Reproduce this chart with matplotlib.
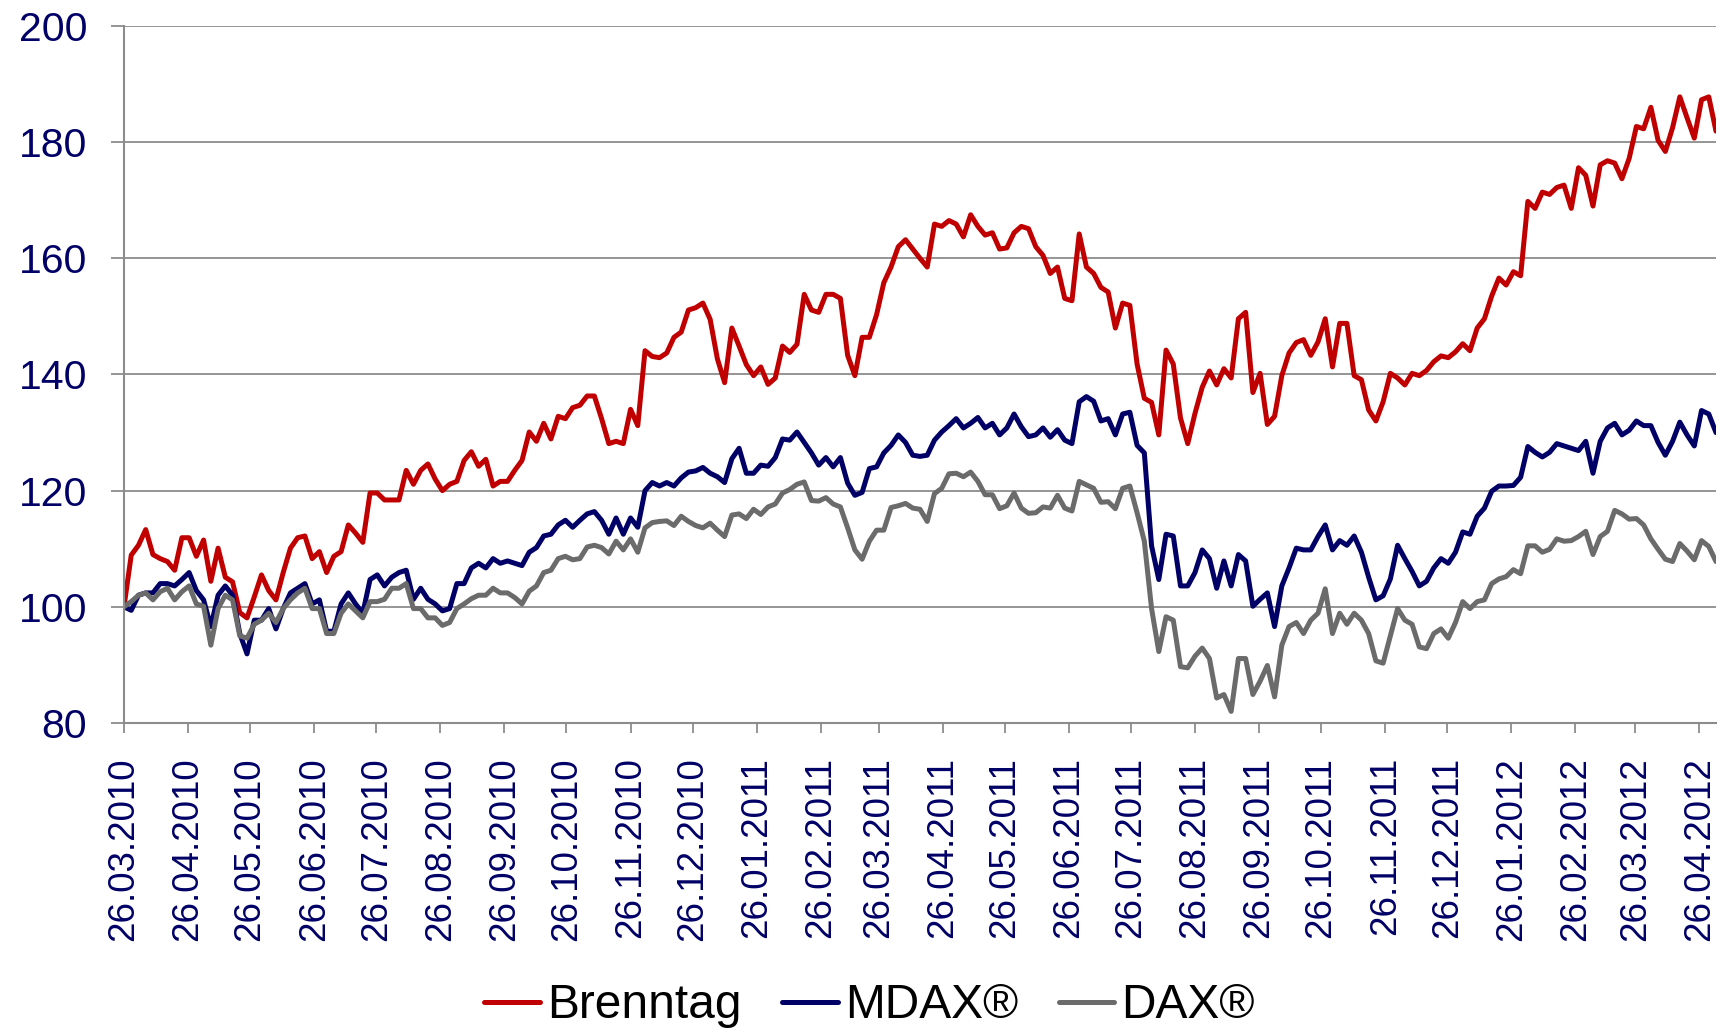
import matplotlib
matplotlib.use("Agg")
import matplotlib.pyplot as plt
import matplotlib.dates as mdates
import pandas as pd

# Observation dates: every 3.5 days from 26.03.2010
dates = pd.date_range("2010-03-26", periods=221, freq="84h")

brenntag = [
    100, 108.9, 110.6, 113.3, 109, 108.3, 107.8, 106.3, 111.9, 111.9,
    108.7, 111.5, 104.4, 110.1, 105.1, 104.3, 99, 98.1, 101.7, 105.5,
    102.8, 101.2, 105.9, 110.1, 111.9, 112.2, 108.3, 109.5, 105.9, 108.7,
    109.5, 114.1, 112.7, 111.1, 119.6, 119.6, 118.4, 118.4, 118.4, 123.5,
    121.1, 123.5, 124.6, 122, 120, 121.1, 121.6, 125.2, 126.7, 124.2,
    125.4, 120.8, 121.6, 121.6, 123.5, 125.2, 130.1, 128.5, 131.6, 128.9,
    132.8, 132.4, 134.3, 134.7, 136.3, 136.3, 132.4, 128.1, 128.5, 128.1,
    134, 131.2, 144.1, 143.1, 142.9, 143.7, 146.4, 147.3, 151.1, 151.5,
    152.3, 149.5, 142.7, 138.6, 148, 144.9, 141.7, 139.8, 141.3, 138.3,
    139.4, 144.9, 143.8, 145.2, 153.8, 151.1, 150.7, 153.8, 153.8, 153.1,
    143.3, 139.8, 146.4, 146.4, 150.3, 155.8, 158.5, 162, 163.2, 161.6,
    160, 158.5, 165.9, 165.5, 166.5, 165.9, 163.7, 167.5, 165.5, 164,
    164.4, 161.6, 161.8, 164.4, 165.5, 165.1, 162, 160.5, 157.4, 158.5,
    153.1, 152.7, 164.2, 158.5, 157.4, 155, 154.2, 148, 152.3, 151.9,
    141.8, 135.9, 135.2, 129.6, 144.2, 141.8, 132.5, 128.1, 133.3, 137.8,
    140.6, 138.2, 141, 139.4, 149.6, 150.7, 136.9, 140.2, 131.4, 132.8,
    139.8, 143.7, 145.5, 146, 143.3, 145.6, 149.6, 141.3, 148.8, 148.8,
    139.8, 139.1, 133.9, 132, 135.3, 140.2, 139.4, 138.2, 140.2, 139.8,
    140.7, 142.2, 143.2, 142.9, 143.9, 145.3, 144.1, 148, 149.6, 153.5,
    156.6, 155.4, 157.7, 157, 169.8, 168.6, 171.4, 171, 172.2, 172.6,
    168.6, 175.6, 174.3, 169, 176.1, 176.8, 176.4, 173.7, 177.2, 182.7,
    182.3, 186, 180.3, 178.4, 182.5, 187.8, 184.2, 180.7, 187.3, 187.8,
    181.9,
]

mdax = [
    100, 99.4, 102, 102.4, 102.4, 104, 104, 103.6, 104.7, 105.9,
    102.8, 101.2, 96.6, 102, 103.6, 102, 95.4, 91.9, 97.7, 97.7,
    99.7, 96.2, 99.7, 102.4, 103.2, 104, 100.5, 101.2, 95.8, 95.8,
    100.5, 102.4, 100.5, 98.9, 104.7, 105.5, 103.6, 105.1, 105.9, 106.3,
    101.3, 103.2, 101.3, 100.5, 99.3, 99.7, 104, 104, 106.7, 107.5,
    106.7, 108.3, 107.5, 107.9, 107.5, 107.1, 109.4, 110.2, 112.2, 112.5,
    114.1, 114.9, 113.7, 114.9, 116, 116.4, 114.9, 112.5, 115.3, 112.5,
    115.3, 113.7, 120, 121.4, 120.8, 121.4, 120.8, 122.2, 123.2, 123.4,
    124, 123, 122.4, 121.4, 125.5, 127.3, 123, 123, 124.4, 124.2,
    125.7, 128.9, 128.7, 130.1, 128.3, 126.5, 124.4, 125.7, 124.1, 125.7,
    121.3, 119.2, 119.7, 123.8, 124.1, 126.5, 127.8, 129.6, 128.3, 126.1,
    125.9, 126.1, 128.7, 130.1, 131.2, 132.4, 130.8, 131.6, 132.6, 130.8,
    131.6, 129.6, 130.8, 133.2, 131, 129.3, 129.6, 130.8, 129.2, 130.5,
    128.7, 128.1, 135.3, 136.2, 135.4, 132, 132.4, 129.6, 133.2, 133.5,
    127.8, 126.5, 110.5, 104.7, 112.5, 112.2, 103.6, 103.6, 105.9, 109.8,
    108.3, 103.2, 107.9, 103.6, 109, 107.9, 100.1, 101.3, 102.4, 96.6,
    103.6, 106.7, 110.1, 109.8, 109.8, 112.1, 114.1, 109.8, 111.4, 110.6,
    112.2, 109.4, 105.1, 101.2, 101.9, 104.8, 110.6, 108.3, 106.1, 103.6,
    104.4, 106.7, 108.3, 107.5, 109.4, 112.9, 112.5, 115.6, 117, 119.9,
    120.8, 120.8, 120.9, 122.3, 127.6, 126.6, 125.8, 126.6, 128.1, 127.7,
    127.3, 126.9, 128.5, 123, 128.5, 130.8, 131.6, 129.6, 130.4, 132,
    131.2, 131.2, 128.3, 126.1, 128.5, 131.8, 129.6, 127.7, 133.8, 133.2,
    130,
]

dax = [
    100, 100.9, 102, 102.4, 101.2, 102.6, 103.2, 101.2, 102.6, 103.6,
    100.5, 100.1, 93.4, 99.7, 102, 101.2, 95, 94.6, 97, 97.7,
    98.9, 97.3, 99.7, 101.2, 102.4, 103.2, 99.7, 99.7, 95.4, 95.4,
    98.9, 100.5, 99.3, 98.1, 100.9, 100.9, 101.3, 103.2, 103.2, 104,
    99.7, 99.7, 98.1, 98.1, 96.8, 97.3, 99.7, 100.5, 101.4, 102,
    102, 103.2, 102.4, 102.4, 101.6, 100.5, 102.7, 103.6, 105.9, 106.3,
    108.3, 108.7, 108.1, 108.3, 110.3, 110.6, 110.2, 109.1, 111.3, 109.8,
    111.7, 109.4, 113.6, 114.5, 114.7, 114.8, 114, 115.6, 114.7, 114,
    113.6, 114.4, 113.2, 112.1, 115.8, 116, 115.2, 116.8, 115.9, 117.2,
    117.7, 119.6, 120.2, 121.1, 121.5, 118.3, 118.2, 118.8, 117.7, 117.2,
    113.6, 109.8, 108.2, 111.3, 113.2, 113.2, 117.1, 117.4, 117.8, 117,
    116.8, 114.7, 119.5, 120.4, 122.9, 123, 122.4, 123.2, 121.6, 119.3,
    119.3, 116.9, 117.4, 119.6, 117, 116.1, 116.2, 117.2, 117, 119.2,
    117, 116.5, 121.6, 121, 120.4, 118, 118.1, 116.9, 120.4, 120.8,
    116.2, 111.3, 99.7, 92.3, 98.3, 97.7, 89.7, 89.5, 91.5, 92.9,
    91.1, 84.3, 84.9, 82, 91.1, 91.1, 84.9, 87.2, 89.9, 84.5,
    93.4, 96.6, 97.3, 95.4, 97.7, 98.9, 103.1, 95.4, 98.9, 97,
    98.9, 97.7, 95.4, 90.7, 90.3, 95, 99.7, 97.7, 97, 93.1,
    92.8, 95.4, 96.2, 94.6, 97.3, 100.9, 99.7, 100.9, 101.2, 104,
    104.8, 105.2, 106.4, 105.7, 110.5, 110.5, 109.4, 109.9, 111.7, 111.3,
    111.4, 112.1, 113, 109, 112.1, 113, 116.6, 116, 115.1, 115.2,
    114.1, 111.7, 109.9, 108.2, 107.8, 110.9, 109.6, 108.1, 111.4, 110.4,
    107.8,
]

series_names = ["Brenntag", "MDAX®", "DAX®"]
series_colors = ["#C00000", "#000066", "#6B6B6B"]
tick_dates = pd.date_range("2010-03-01", "2012-04-01", freq="MS") + pd.Timedelta(days=25)
y_ticks = [80, 100, 120, 140, 160, 180, 200]

plt.rcParams["font.family"] = ["Liberation Sans", "DejaVu Sans"]

W, H = 1720, 1032
fig = plt.figure(figsize=(W / 100, H / 100), dpi=100)
ax = fig.add_axes([124 / W, 1 - 723 / H, (1716 - 124) / W, (723 - 26) / H])

for vals, name, col in zip([brenntag, mdax, dax], series_names, series_colors):
    ax.plot(dates, vals, color=col, lw=3.6, label=name,
            solid_joinstyle="round", solid_capstyle="round")

grid_col = "#8C8C8C"
ax.set_ylim(80, 200)
ax.set_yticks(y_ticks)
ax.set_xlim(dates[0], dates[-1])
ax.set_xticks(tick_dates)
ax.xaxis.set_major_formatter(mdates.DateFormatter("%d.%m.%Y"))

ax.grid(axis="y", color=grid_col, lw=1.3)
ax.set_axisbelow(True)
for s in ["top", "right"]:
    ax.spines[s].set_visible(False)
for s in ["left", "bottom"]:
    ax.spines[s].set_color(grid_col)
    ax.spines[s].set_linewidth(1.5)

ax.tick_params(axis="y", direction="out", length=9.5, width=1.3, color=grid_col,
               labelcolor="#000066", labelsize=29.5, pad=17)
ax.tick_params(axis="x", direction="out", length=7.5, width=1.3, color=grid_col,
               labelcolor="#000066", labelsize=26.5, pad=17, labelrotation=90)

handles, labels = ax.get_legend_handles_labels()
fig.legend(handles, labels, loc="center", bbox_to_anchor=(0.5055, 1 - 1006 / H),
           ncol=3, frameon=False, fontsize=34.5, handlelength=1.16,
           handletextpad=0.15, columnspacing=0.85)

fig.savefig("out.png", dpi=100)
